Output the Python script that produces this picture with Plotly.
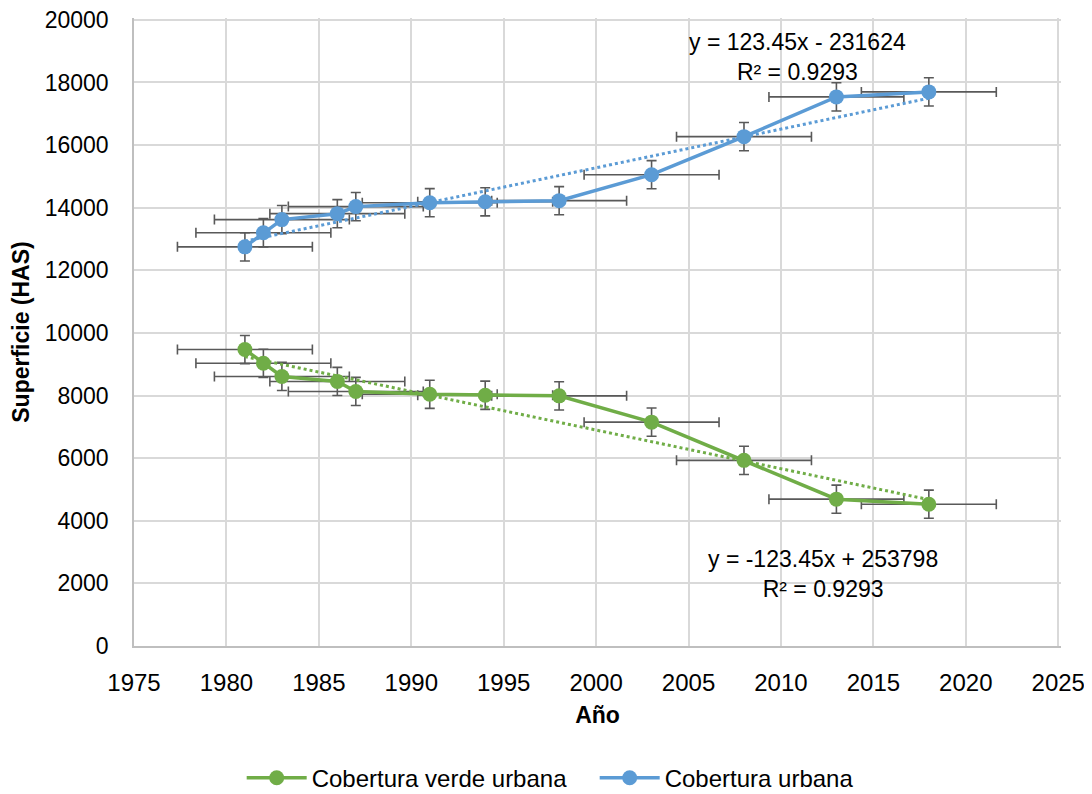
import plotly.graph_objects as go
import numpy as np

years = [1981, 1982, 1983, 1986, 1987, 1991, 1994, 1998, 2003, 2008, 2013, 2018]
urbana = [12750, 13200, 13620, 13810, 14035, 14160, 14190, 14225, 15055, 16270, 17540, 17700]
verde = [9470, 9030, 8610, 8450, 8130, 8040, 8010, 7990, 7150, 5930, 4690, 4530]
x_err = 3.65
y_err = 450
trend_urbana = (123.45, -231624)
trend_verde = (-123.45, 253798)
eq_urbana = ["y = 123.45x - 231624", "R² = 0.9293"]
eq_verde = ["y = -123.45x + 253798", "R² = 0.9293"]

BLUE = "#5B9BD5"
GREEN = "#70AD47"
ERR = "#595959"
FONT = "Liberation Sans, Arial, sans-serif"
FS = 23

fig = go.Figure()

# error bars (drawn beneath lines)
for ys in (verde, urbana):
    fig.add_trace(go.Scatter(
        x=years, y=ys, mode="markers", marker=dict(size=1, opacity=0),
        error_x=dict(type="constant", value=x_err, color=ERR, thickness=1.6, width=5),
        error_y=dict(type="constant", value=y_err, color=ERR, thickness=1.6, width=5),
        showlegend=False, hoverinfo="skip"))

# trendlines
tx = np.array([years[0], years[-1]], dtype=float)
for (m, b), col in ((trend_verde, GREEN), (trend_urbana, BLUE)):
    fig.add_trace(go.Scatter(
        x=tx, y=m * tx + b, mode="lines",
        line=dict(color=col, width=3, dash="dot"),
        showlegend=False, hoverinfo="skip"))

fig.add_trace(go.Scatter(
    x=years, y=verde, mode="lines+markers", name="Cobertura verde urbana",
    line=dict(color=GREEN, width=3.5), marker=dict(color=GREEN, size=15)))
fig.add_trace(go.Scatter(
    x=years, y=urbana, mode="lines+markers", name="Cobertura urbana",
    line=dict(color=BLUE, width=3.5), marker=dict(color=BLUE, size=15)))

ann_font = dict(family=FONT, size=FS, color="#000000")
fig.add_annotation(x=2010.9, y=18800, xref="x", yref="y", text=eq_urbana[0] + "<br>" + eq_urbana[1],
                   showarrow=False, font=ann_font, align="center")
fig.add_annotation(x=2012.3, y=2300, xref="x", yref="y", text=eq_verde[0] + "<br>" + eq_verde[1],
                   showarrow=False, font=ann_font, align="center")

fig.update_layout(
    width=1092, height=794,
    paper_bgcolor="white", plot_bgcolor="white",
    margin=dict(l=126, r=39, t=10, b=156),
    font=dict(family=FONT, size=FS, color="#000000"),
    legend=dict(orientation="h", xref="container", x=0.214, xanchor="left",
                yref="container", y=0.03, yanchor="middle",
                font=dict(family=FONT, size=24), itemwidth=60, tracegroupgap=0,
                entrywidth=278),
    xaxis=dict(range=[1975, 2025.15], dtick=5, tick0=1975, tickformat="d",
               showgrid=True, gridcolor="#D9D9D9", gridwidth=1.5,
               showline=True, linecolor="#BFBFBF", linewidth=1.5,
               zeroline=False, ticks="", tickfont=dict(size=24), ticklabelstandoff=14,
               automargin=False, ticklabeloverflow="allow",
               title=dict(text="<b>Año</b>", font=dict(size=FS), standoff=12)),
    yaxis=dict(range=[0, 20060], dtick=2000, tickformat="d",
               showgrid=True, gridcolor="#D9D9D9", gridwidth=1.5,
               showline=True, linecolor="#BFBFBF", linewidth=1.5,
               zeroline=False, ticks="", tickfont=dict(size=FS), ticklabelstandoff=19,
               automargin=False, ticklabeloverflow="allow",
               title=dict(text="<b>Superficie (HAS)</b>", font=dict(size=FS), standoff=10)),
)

fig.write_html("out.html")
